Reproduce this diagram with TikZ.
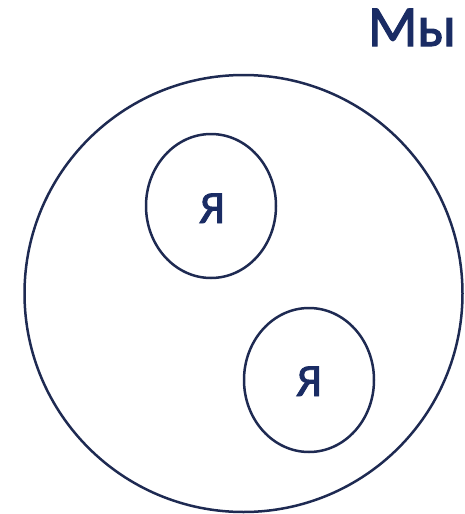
\documentclass[tikz,border=0pt]{standalone}
\usepackage{fontspec}
\setmainfont{Carlito}[FakeBold=2]
\definecolor{linec}{RGB}{30,42,82}
\definecolor{textc}{RGB}{26,44,100}
\begin{document}
\begin{tikzpicture}[x=1pt,y=-1pt,
  ring/.style={draw=linec,line width=2.5pt},
  lbl/.style={text=textc,inner sep=0pt}]
\useasboundingbox (0,0) rectangle (464,514);
\draw[ring] (243.5,293.5) ellipse [x radius=219, y radius=218.5];
\node[lbl,anchor=base,font=\fontsize{58}{60}\selectfont] (my) at (412,46) {Мы};
\draw[ring] (211,206) ellipse [x radius=65, y radius=72];
\draw[ring] (309,380) ellipse [x radius=65, y radius=72];
\node[lbl,anchor=base,font=\fontsize{46}{50}\selectfont] (ya1) at (212,223) {Я};
\node[lbl,anchor=base,font=\fontsize{46}{50}\selectfont] (ya2) at (309,396) {Я};
\end{tikzpicture}
\end{document}
